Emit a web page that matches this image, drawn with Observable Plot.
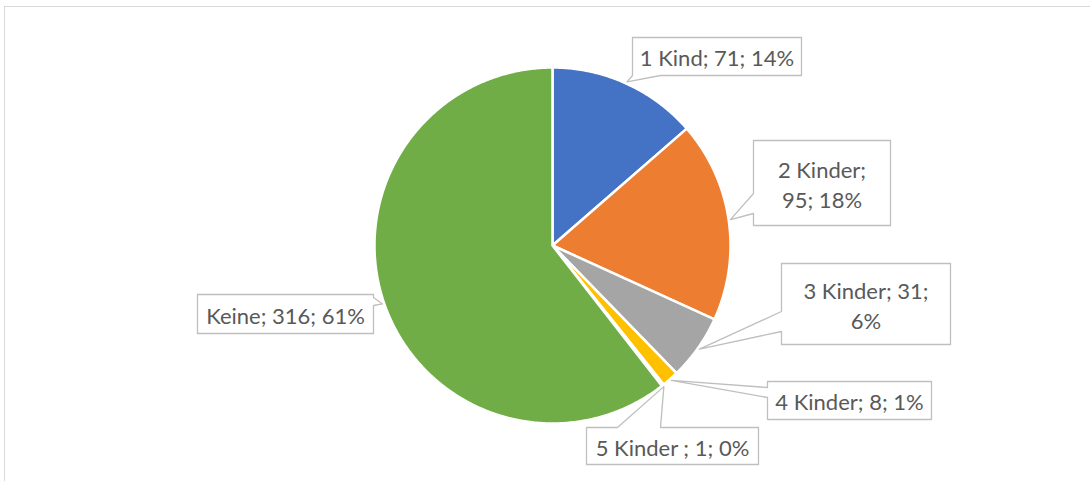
<!DOCTYPE html>
<html>
<head>
<meta charset="utf-8">
<script src="https://cdn.jsdelivr.net/npm/d3@7"></script>
<script src="https://cdn.jsdelivr.net/npm/@observablehq/plot@0.6"></script>
<style>
  html, body { margin: 0; padding: 0; background: #fff; width: 1090px; height: 481px; overflow: hidden; }
  #frame { position: absolute; left: 4px; top: 6px; width: 1100px; height: 500px; border: 1px solid #d9d9d9; box-sizing: border-box; }
  #chart { position: absolute; left: 0; top: 0; }
</style>
</head>
<body>
<div id="frame"></div>
<div id="chart"></div>
<script>
// ---- data ----
const categories = ["1 Kind", "2 Kinder", "3 Kinder", "4 Kinder", "5 Kinder ", "Keine"];
const values = [71, 95, 31, 8, 1, 316];
const labelTexts = ["1 Kind; 71; 14%", "2 Kinder;\n95; 18%", "3 Kinder; 31;\n6%", "4 Kinder; 8; 1%", "5 Kinder ; 1; 0%", "Keine; 316; 61%"];
const colors = ["#4472C4", "#ED7D31", "#A5A5A5", "#FFC000", "#5B9BD5", "#70AD47"];

// ---- layout (pixels) ----
const W = 1090, H = 481;
const CX = 552, CY = 245, R = 178;
// callout boxes: [x0, x1, y0, y1], pointer side and base span
const boxes = [
  {b: [632, 801, 37, 75],   side: "bottom", span: [632, 660]},
  {b: [753, 890, 140, 225], side: "left",   span: [193, 213]},
  {b: [781, 950, 263, 344], side: "left",   span: [311, 331]},
  {b: [767, 931, 381, 419], side: "left",   span: [387, 397]},
  {b: [586, 758, 427, 464], side: "top",    span: [617, 660]},
  {b: [197, 373, 294, 333], side: "right",  span: [297, 305]}
];

const ux = px => (px - CX) / R;
const uy = py => (CY - py) / R;

const total = d3.sum(values);
const pie = d3.pie().sort(null).value(d => d)(values);

// slice polygons in unit coordinates (angle 0 at 12 o'clock, clockwise)
const slicePts = [];
pie.forEach((p, i) => {
  const n = Math.max(2, Math.ceil((p.endAngle - p.startAngle) / 0.01));
  slicePts.push({name: categories[i], x: 0, y: 0});
  for (let k = 0; k <= n; k++) {
    const a = p.startAngle + (p.endAngle - p.startAngle) * k / n;
    slicePts.push({name: categories[i], x: Math.sin(a), y: Math.cos(a)});
  }
  slicePts.push({name: categories[i], x: 0, y: 0});
});

// callout polygons
const calloutPts = [];
const textPts = [];
pie.forEach((p, i) => {
  const {b, side, span} = boxes[i];
  const [x0, x1, y0, y1] = b;
  const mid = (p.startAngle + p.endAngle) / 2;
  const tip = [Math.sin(mid) * 1.01, Math.cos(mid) * 1.01];
  const pts = [];
  const P = (x, y) => pts.push([ux(x), uy(y)]);
  const T = () => pts.push(tip);
  P(x0, y0);
  if (side === "top") { P(span[0], y0); T(); P(span[1], y0); }
  P(x1, y0);
  if (side === "right") { P(x1, span[0]); T(); P(x1, span[1]); }
  P(x1, y1);
  if (side === "bottom") { P(span[1], y1); T(); P(span[0], y1); }
  P(x0, y1);
  if (side === "left") { P(x0, span[1]); T(); P(x0, span[0]); }
  P(x0, y0);
  pts.forEach(([x, y]) => calloutPts.push({name: categories[i], x, y}));
  textPts.push({name: categories[i], text: labelTexts[i], x: ux((x0 + x1) / 2), y: uy((y0 + y1) / 2)});
});

const plot = Plot.plot({
  width: W,
  height: H,
  margin: 0,
  style: {background: "transparent", overflow: "visible"},
  x: {domain: [ux(0), ux(W)], range: [0, W], axis: null},
  y: {domain: [uy(H), uy(0)], range: [H, 0], axis: null},
  color: {domain: categories, range: colors},
  marks: [
    Plot.line(slicePts, {x: "x", y: "y", z: "name", fill: "name", stroke: "white", strokeWidth: 2.5, strokeLinejoin: "round", curve: "linear"}),
    Plot.line(calloutPts, {x: "x", y: "y", z: "name", fill: "white", stroke: "#bfbfbf", strokeWidth: 1.3, curve: "linear"}),
    Plot.text(textPts, {x: "x", y: "y", text: "text", fill: "#595959", fontSize: 22, lineHeight: 30 / 22, fontFamily: "Lato, 'Open Sans', sans-serif", textAnchor: "middle", lineAnchor: "middle"})
  ]
});
document.getElementById("chart").appendChild(plot);
</script>
</body>
</html>
